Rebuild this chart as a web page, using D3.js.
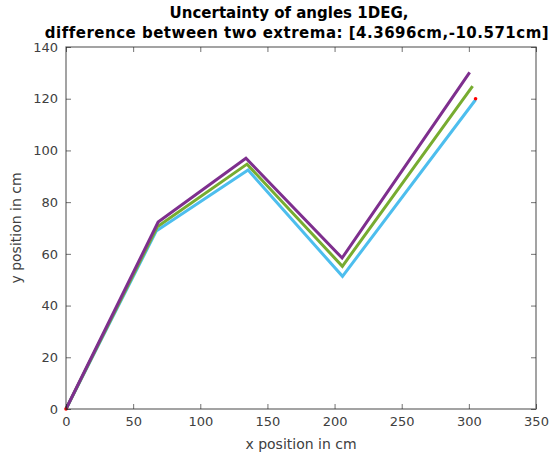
<!DOCTYPE html>
<html>
<head>
<meta charset="utf-8">
<script src="https://cdn.jsdelivr.net/npm/d3@7"></script>
<style>
  body { margin: 0; background: #fff; }
  svg text { font-family: "DejaVu Sans", sans-serif; }
</style>
</head>
<body>
<svg id="chart" width="551" height="454"></svg>
<script>
// arm joint positions (cm), one series per angle variant
const seriesNames = ["upper", "nominal", "lower"];
const seriesColors = ["#7E2F8E", "#77AC30", "#4DBEEE"];
const xUpper = [0, 68.6, 134.0, 205.6, 300.6];
const yUpper = [0, 72.3, 97.0, 58.4, 130.2];
const xNominal = [0, 68.0, 134.8, 205.8, 302.8];
const yNominal = [0, 70.5, 94.7, 55.2, 124.9];
const xLower = [0, 67.2, 135.6, 205.9, 305.0];
const yLower = [0, 68.8, 92.4, 51.3, 119.6];
// start and target points
const xTarget = [0, 305];
const yTarget = [0, 120];
const xTicks = [0, 50, 100, 150, 200, 250, 300, 350];
const yTicks = [0, 20, 40, 60, 80, 100, 120, 140];

const margin = { top: 47, right: 15, bottom: 45, left: 66 };
const width = 551, height = 454;
const svg = d3.select("#chart");

const x = d3.scaleLinear().domain([0, 350]).range([margin.left, width - margin.right]);
const y = d3.scaleLinear().domain([0, 140]).range([height - margin.bottom, margin.top]);

const axisColor = "#262626";
const lineData = [
  { xs: xUpper, ys: yUpper },
  { xs: xNominal, ys: yNominal },
  { xs: xLower, ys: yLower },
];

// lines (lower drawn first so upper sits on top)
const line = d3.line().x((d) => x(d[0])).y((d) => y(d[1]));
const plot = svg.append("g");
lineData
  .map((s, i) => ({ pts: s.xs.map((v, j) => [v, s.ys[j]]), color: seriesColors[i], name: seriesNames[i] }))
  .reverse()
  .forEach((s) => {
    plot.append("path")
      .datum(s.pts)
      .attr("fill", "none")
      .attr("stroke", s.color)
      .attr("stroke-width", 3)
      .attr("stroke-linejoin", "miter")
      .attr("d", line);
  });

plot.selectAll("circle.target")
  .data(xTarget.map((v, i) => [v, yTarget[i]]))
  .enter()
  .append("circle")
  .attr("class", "target")
  .attr("cx", (d) => x(d[0]))
  .attr("cy", (d) => y(d[1]))
  .attr("r", 1.8)
  .attr("fill", "#ff0000");

// axes: ticks inward on all four sides
const tickLen = 5;
const axes = svg.append("g").attr("stroke", axisColor).attr("stroke-opacity", 0.65);
axes.append("rect")
  .attr("x", x(0)).attr("y", y(140))
  .attr("width", x(350) - x(0)).attr("height", y(0) - y(140))
  .attr("fill", "none").attr("stroke-width", 1.3);

const axisBottom = d3.axisBottom(x).tickValues(xTicks).tickSize(-tickLen).tickPadding(8);
const axisLeft = d3.axisLeft(y).tickValues(yTicks).tickSize(-tickLen).tickPadding(8);
const axisTop = d3.axisTop(x).tickValues(xTicks).tickSize(-tickLen).tickFormat("");
const axisRight = d3.axisRight(y).tickValues(yTicks).tickSize(-tickLen).tickFormat("");

function styleAxis(g) {
  g.select(".domain").remove();
  g.selectAll(".tick line").attr("stroke", axisColor).attr("stroke-opacity", 0.65);
  g.selectAll(".tick text").attr("fill", "#404040").attr("font-size", 13);
}
svg.append("g").attr("transform", `translate(0,${y(0)})`).call(axisBottom).call(styleAxis);
svg.append("g").attr("transform", `translate(${x(0)},0)`).call(axisLeft).call(styleAxis);
svg.append("g").attr("transform", `translate(0,${y(140)})`).call(axisTop).call(styleAxis);
svg.append("g").attr("transform", `translate(${x(350)},0)`).call(axisRight).call(styleAxis);

// labels
svg.append("text")
  .attr("x", (x(0) + x(350)) / 2)
  .attr("y", 449)
  .attr("text-anchor", "middle")
  .attr("font-size", 14)
  .attr("fill", "#404040")
  .text("x position in cm");

svg.append("text")
  .attr("transform", `translate(21,${(y(0) + y(140)) / 2}) rotate(-90)`)
  .attr("text-anchor", "middle")
  .attr("font-size", 14)
  .attr("fill", "#404040")
  .text("y position in cm");

const title = svg.append("text")
  .attr("text-anchor", "middle")
  .attr("font-size", 15)
  .attr("font-weight", "bold")
  .attr("fill", "#000");
title.append("tspan").attr("x", 289).attr("y", 18).text("Uncertainty of angles 1DEG,");
title.append("tspan").attr("x", 297).attr("y", 38).attr("letter-spacing", 0.5)
  .text("difference between two extrema: [4.3696cm,-10.571cm]");
</script>
</body>
</html>
